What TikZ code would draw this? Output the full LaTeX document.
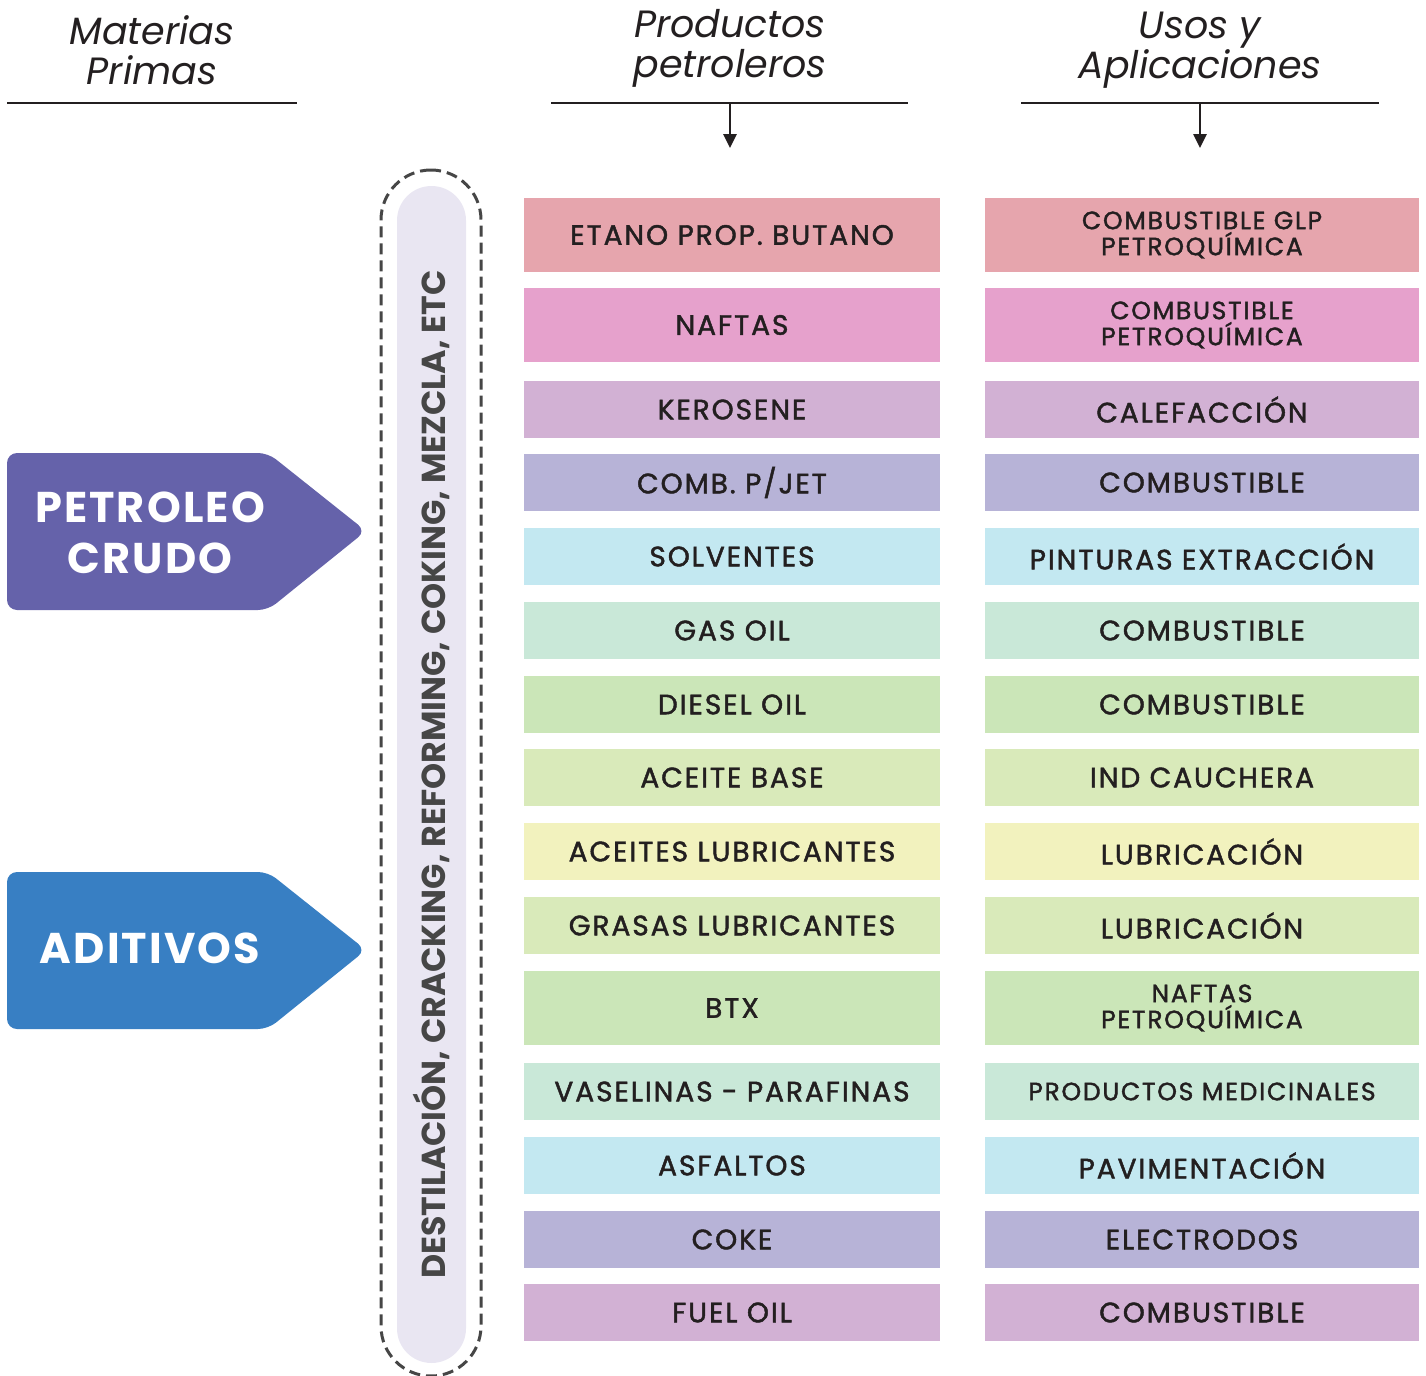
\documentclass[tikz,border=0pt]{standalone}
\usepackage{fontspec}
\setmainfont{Poppins}
\newfontfamily\boxfont{Poppins}[FakeBold=1.6, LetterSpace=7]
\newfontfamily\tagfont{Poppins}[LetterSpace=5]
\usetikzlibrary{arrows.meta}
\definecolor{etanocol}{HTML}{E6A5AD}
\definecolor{naftacol}{HTML}{E6A1CC}
\definecolor{lilacol}{HTML}{D2B1D4}
\definecolor{lavcol}{HTML}{B7B3D7}
\definecolor{skycol}{HTML}{C3E8F1}
\definecolor{mintcol}{HTML}{C9E8D8}
\definecolor{greencol}{HTML}{CBE6B8}
\definecolor{limecol}{HTML}{D9EABA}
\definecolor{yellowcol}{HTML}{F2F2BE}
\definecolor{crudocol}{HTML}{6562AA}
\definecolor{aditcol}{HTML}{387FC3}
\definecolor{proccol}{HTML}{E9E6F2}
\definecolor{inkcol}{HTML}{231F20}
\definecolor{greycol}{HTML}{464646}
\tikzstyle{prodbox} = [rectangle, minimum width=208pt, minimum height=28.5pt,
    inner sep=0pt, text=inkcol, align=center,
    font=\boxfont\fontsize{14}{14}\selectfont]
\tikzstyle{usobox} = [prodbox, minimum width=217pt]
\tikzstyle{tallbox} = [minimum height=37pt]
\tikzstyle{twoline} = [font=\boxfont\fontsize{12.5}{13}\selectfont]
\tikzstyle{headtitle} = [align=center, text=inkcol,
    font=\fontsize{19}{20}\selectfont\itshape]
\tikzstyle{headline} = [line width=1.4pt, draw=inkcol]
\tikzstyle{tagtext} = [align=center, text=white,
    font=\tagfont\fontsize{21.5}{25.5}\selectfont\bfseries]
\tikzstyle{procfill} = [rectangle, fill=proccol, rounded corners=17.25pt,
    minimum width=34.5pt, minimum height=588.5pt, inner sep=0pt]
\tikzstyle{procdash} = [rectangle, draw=greycol, line width=1.5pt,
    dash pattern=on 5.5pt off 3pt, rounded corners=25pt,
    minimum width=50pt, minimum height=603pt, inner sep=0pt]

\begin{document}
\begin{tikzpicture}[x=0.5pt, y=-0.5pt]
\useasboundingbox (0,0) rectangle (1426,1376);

% column headers
\node[headtitle] (materias) at (152,50) {Materias\\Primas};
\node[headtitle] (productos) at (730,48) {Productos\\petroleros};
\node[headtitle] (usos) at (1200,50) {Usos y\\Aplicaciones};
\draw[headline] (7,103) -- (297,103);
\draw[headline] (551,103) -- (908,103);
\draw[headline] (1021,103) -- (1379,103);
\coordinate (prodtop) at (730,103);
\coordinate (prodtip) at (730,148);
\coordinate (usotop) at (1200,103);
\coordinate (usotip) at (1200,148);
\draw[-{Triangle[length=7pt,width=6.5pt]}, line width=1.3pt, draw=inkcol]
    (prodtop) -- (prodtip);
\draw[-{Triangle[length=7pt,width=6.5pt]}, line width=1.3pt, draw=inkcol]
    (usotop) -- (usotip);

% raw materials
\fill[crudocol, rounded corners=5pt] (7,453) -- (268,453) -- (366,531)
    -- (268,610) -- (7,610) -- cycle;
\node[tagtext] (crudo) at (150,533) {PETROLEO\\CRUDO};
\fill[aditcol, rounded corners=5pt] (7,872) -- (268,872) -- (366,950)
    -- (268,1029) -- (7,1029) -- cycle;
\node[tagtext] (aditivos) at (150,948) {ADITIVOS};

% processes
\node[procdash] (procline) at (431,773) {};
\node[procfill] (proc) at (431.5,774.5) {};
\node[rotate=90, text=greycol, font=\fontsize{16.6}{16.6}\selectfont\bfseries]
    (proctext) at (proc) {DESTILACIÓN, CRACKING, REFORMING, COKING, MEZCLA, ETC};

% products
\node[prodbox, tallbox, fill=etanocol] (p1) at (732,235) {ETANO PROP. BUTANO};
\node[prodbox, tallbox, fill=naftacol] (p2) at (732,325) {NAFTAS};
\node[prodbox, fill=lilacol] (p3) at (732,409.5) {KEROSENE};
\node[prodbox, fill=lavcol] (p4) at (732,482.5) {COMB. P/JET};
\node[prodbox, fill=skycol] (p5) at (732,556.5) {SOLVENTES};
\node[prodbox, fill=mintcol] (p6) at (732,630.5) {GAS OIL};
\node[prodbox, fill=greencol] (p7) at (732,704.5) {DIESEL OIL};
\node[prodbox, fill=limecol] (p8) at (732,777.5) {ACEITE BASE};
\node[prodbox, fill=yellowcol] (p9) at (732,851.5) {ACEITES LUBRICANTES};
\node[prodbox, fill=limecol] (p10) at (732,925.5) {GRASAS LUBRICANTES};
\node[prodbox, tallbox, fill=greencol] (p11) at (732,1008) {BTX};
\node[prodbox, fill=mintcol] (p12) at (732,1091.5) {VASELINAS - PARAFINAS};
\node[prodbox, fill=skycol] (p13) at (732,1165.5) {ASFALTOS};
\node[prodbox, fill=lavcol] (p14) at (732,1239.5) {COKE};
\node[prodbox, fill=lilacol] (p15) at (732,1312.5) {FUEL OIL};

% uses
\node[usobox, tallbox, twoline, fill=etanocol] (u1) at (1202,235)
    {COMBUSTIBLE GLP\\PETROQUÍMICA};
\node[usobox, tallbox, twoline, fill=naftacol] (u2) at (1202,325)
    {COMBUSTIBLE\\PETROQUÍMICA};
\node[usobox, fill=lilacol] (u3) at (1202,409.5) {CALEFACCIÓN};
\node[usobox, fill=lavcol] (u4) at (1202,482.5) {COMBUSTIBLE};
\node[usobox, fill=skycol] (u5) at (1202,556.5) {PINTURAS EXTRACCIÓN};
\node[usobox, fill=mintcol] (u6) at (1202,630.5) {COMBUSTIBLE};
\node[usobox, fill=greencol] (u7) at (1202,704.5) {COMBUSTIBLE};
\node[usobox, fill=limecol] (u8) at (1202,777.5) {IND CAUCHERA};
\node[usobox, fill=yellowcol] (u9) at (1202,851.5) {LUBRICACIÓN};
\node[usobox, fill=limecol] (u10) at (1202,925.5) {LUBRICACIÓN};
\node[usobox, tallbox, twoline, fill=greencol] (u11) at (1202,1008)
    {NAFTAS\\PETROQUÍMICA};
\node[usobox, twoline, fill=mintcol] (u12) at (1202,1091.5) {PRODUCTOS MEDICINALES};
\node[usobox, fill=skycol] (u13) at (1202,1165.5) {PAVIMENTACIÓN};
\node[usobox, fill=lavcol] (u14) at (1202,1239.5) {ELECTRODOS};
\node[usobox, fill=lilacol] (u15) at (1202,1312.5) {COMBUSTIBLE};
\end{tikzpicture}
\end{document}
